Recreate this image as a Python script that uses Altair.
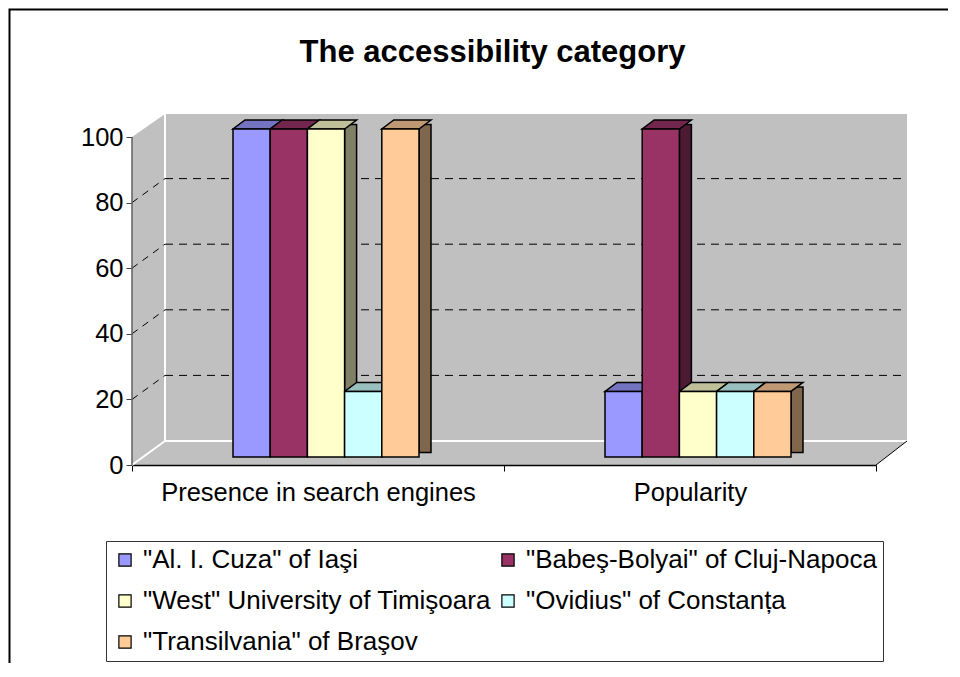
import altair as alt
import pandas as pd

# ---------------- data ----------------
categories = ["Presence in search engines", "Popularity"]
universities = [
    '"Al. I. Cuza" of Iaşi',
    '"Babeş-Bolyai" of Cluj-Napoca',
    '"West" University of Timişoara',
    '"Ovidius" of Constanța',
    '"Transilvania" of Braşov',
]
presence_scores = [100, 100, 100, 20, 100]
popularity_scores = [20, 100, 20, 20, 20]
y_tick_values = [0, 20, 40, 60, 80, 100]
wall_grid_values = [20, 40, 60, 80]

# ---------------- styles ----------------
front_colors = ["#9999FF", "#993366", "#FFFFCC", "#CCFFFF", "#FFCC99"]
top_colors = ["#7373BF", "#73264D", "#BFBF99", "#99BFBF", "#BF9973"]
side_colors = ["#4D4D80", "#4D1A33", "#808066", "#668080", "#80664D"]

rows = []
for cat, scores in zip(categories, [presence_scores, popularity_scores]):
    for uni, s in zip(universities, scores):
        rows.append({"category": cat, "university": uni, "score": s})
df = pd.DataFrame(rows)
grid_df = pd.DataFrame({"level": wall_grid_values})
one = pd.DataFrame({"k": [0]})

# legend is filled column by column: reorder so that it reads row by row (2 columns)
legend_order = universities[0::2] + universities[1::2]
legend_colors = front_colors[0::2] + front_colors[1::2]

FONT = "Liberation Sans"
W, H = 775, 351            # plot area (front plane + depth)
FRONT_W = 744              # width of the front category axis
PX_PER_UNIT = 3.28
Y_MAX = H / PX_PER_UNIT
BACK_DX, BACK_DY = 33, -24  # back wall offset
BAR_DX, BAR_DY = 8, -8      # bars' front face offset
DEPTH_DX, DEPTH_DY = 12, -9 # bar depth
BAND = FRONT_W / 2
STEP = BAND / 10

y_scale = alt.Scale(domain=[0, Y_MAX], nice=False, zero=True)
xoff_scale = alt.Scale(domain=universities, range=[2.5 * STEP, 7.5 * STEP], paddingInner=0, paddingOuter=0)


def xscale(shift):
    return alt.Scale(domain=categories, range=[shift, FRONT_W + shift], paddingInner=0, paddingOuter=0)


xoff = alt.XOffset("university:N", scale=xoff_scale)
y_noaxis = alt.Y("score:Q", scale=y_scale, axis=None)

# invisible layer that carries the axes
axis_layer = alt.Chart(df).mark_bar(opacity=0).encode(
    x=alt.X(
        "category:N", scale=xscale(0),
        axis=alt.Axis(title=None, labelAngle=0, tickBand="extent", tickSize=6, tickColor="black",
                      domainColor="black", domainWidth=1.5, labelFontSize=25.5, labelFont=FONT,
                      labelColor="black", labelPadding=9, labelLimit=0),
    ),
    xOffset=xoff,
    y=alt.Y("score:Q", scale=y_scale,
            axis=alt.Axis(title=None, orient="left", values=y_tick_values, grid=False, domain=False,
                          tickSize=6, tickColor="#404040", tickWidth=1, labelFontSize=25.5, labelFont=FONT,
                          labelColor="black", labelPadding=3)),
)

# outer frame of the chart
frame = alt.Chart(one).mark_rect(fill="transparent", stroke="black", strokeWidth=2).encode(
    x=alt.value(-122.5), x2=alt.value(W + 80), y=alt.value(-104.5), y2=alt.value(H + 320)
)

# white corners outside the 3-D box
tl_tri = alt.Chart(one).mark_point(
    shape="M-1,-0.697L1,-0.697L-1,0.697Z", size=1089, filled=True, color="white", opacity=1, strokeWidth=0
).encode(x=alt.value(BACK_DX / 2), y=alt.value(11.5))
br_tri = alt.Chart(one).mark_point(
    shape="M1,-0.774L1,0.774L-1,0.774Z", size=961, filled=True, color="white", opacity=1, strokeWidth=0
).encode(x=alt.value((FRONT_W + W) / 2), y=alt.value(H - 12))

# wall edges
back_left_edge = alt.Chart(one).mark_rule(color="white", strokeWidth=2, y2Offset=BACK_DY).encode(
    x=alt.value(BACK_DX), y=alt.datum(Y_MAX, scale=y_scale, axis=None), y2=alt.datum(0)
)
floor_back = alt.Chart(one).mark_rule(color="white", strokeWidth=2, yOffset=BACK_DY).encode(
    x=alt.value(BACK_DX), x2=alt.value(W), y=alt.datum(0, scale=y_scale, axis=None)
)
floor_left = alt.Chart(one).mark_rule(color="white", strokeWidth=2, y2Offset=BACK_DY).encode(
    x=alt.value(0), x2=alt.value(BACK_DX), y=alt.datum(0, scale=y_scale, axis=None), y2=alt.datum(0)
)
floor_right = alt.Chart(one).mark_rule(color="black", strokeWidth=1, y2Offset=BACK_DY).encode(
    x=alt.value(FRONT_W), x2=alt.value(W), y=alt.datum(0, scale=y_scale, axis=None), y2=alt.datum(0)
)

# dashed gridlines on the back wall and on the left wall
grid_back = alt.Chart(grid_df).mark_rule(color="black", strokeWidth=1, strokeDash=[8, 6], yOffset=BACK_DY).encode(
    x=alt.value(BACK_DX), x2=alt.value(W), y=alt.Y("level:Q", scale=y_scale, axis=None)
)
grid_side = alt.Chart(grid_df).mark_rule(color="black", strokeWidth=1, strokeDash=[7, 6], y2Offset=BACK_DY).encode(
    x=alt.value(0), x2=alt.value(BACK_DX), y=alt.Y("level:Q", scale=y_scale, axis=None), y2=alt.Y2("level")
)

y_line = alt.Chart(one).mark_rule(color="#606060", strokeWidth=1.5).encode(
    x=alt.value(0), y=alt.datum(0, scale=y_scale, axis=None), y2=alt.datum(100)
)

side = alt.Chart(df).mark_bar(
    width=DEPTH_DX, stroke="black", strokeWidth=1.5,
    yOffset=BAR_DY + DEPTH_DY / 2, y2Offset=BAR_DY + DEPTH_DY / 2,
).encode(
    x=alt.X("category:N", scale=xscale(BAR_DX + STEP / 2 + DEPTH_DX / 2), axis=None),
    xOffset=xoff,
    y=y_noaxis,
    y2=alt.datum(0),
    color=alt.Color("university:N", scale=alt.Scale(domain=universities, range=side_colors), legend=None),
)

half = STEP / 2 + DEPTH_DX / 2
top_path = "M-1,{a:.3f}L{b:.3f},{a:.3f}L1,{c:.3f}L{d:.3f},{c:.3f}Z".format(
    a=(-DEPTH_DY / 2) / half, b=(STEP / 2 - DEPTH_DX / 2) / half, c=(DEPTH_DY / 2) / half,
    d=-(STEP / 2 - DEPTH_DX / 2) / half)
top = alt.Chart(df).mark_point(
    shape=top_path, size=(2 * half) ** 2, filled=True, opacity=1, stroke="black", strokeWidth=1.5,
    yOffset=BAR_DY + DEPTH_DY / 2,
).encode(
    x=alt.X("category:N", scale=xscale(BAR_DX + DEPTH_DX / 2), axis=None),
    xOffset=xoff,
    y=y_noaxis,
    color=alt.Color("university:N", scale=alt.Scale(domain=universities, range=top_colors), legend=None),
)

front = alt.Chart(df).mark_bar(stroke="black", strokeWidth=1.5, yOffset=BAR_DY, y2Offset=BAR_DY).encode(
    x=alt.X("category:N", scale=xscale(BAR_DX), axis=None),
    xOffset=xoff,
    y=y_noaxis,
    y2=alt.datum(0),
    color=alt.Color(
        "university:N",
        scale=alt.Scale(domain=legend_order, range=legend_colors),
        legend=alt.Legend(
            title=None, orient="none", legendX=-26, legendY=427, columns=2, columnPadding=4,
            rowPadding=15, padding=6, symbolType="square", symbolSize=150, symbolStrokeColor="black",
            symbolStrokeWidth=1.2, symbolOpacity=1, labelFont=FONT, labelFontSize=26, labelColor="black",
            labelOffset=5, labelLimit=0, strokeColor="#333333", fillColor="white",
        ),
    ),
)

chart = alt.layer(
    axis_layer, frame, tl_tri, br_tri, back_left_edge, floor_back, floor_left, floor_right,
    grid_back, grid_side, y_line, side, top, front,
).resolve_scale(
    x="independent", color="independent"
).resolve_axis(
    y="independent"
).properties(
    width=W, height=H,
    autosize=alt.AutoSizeParams(type="none"),
    padding={"left": 124, "top": 106, "right": 41, "bottom": 198},
    title=alt.TitleParams(
        "The accessibility category", font=FONT, fontSize=31, fontWeight="bold", color="black",
        anchor="middle", dx=-27, baseline="alphabetic", offset=-84.5,
    ),
).configure_view(fill="#C0C0C0", stroke=None)

chart.save("out.html", embed_options={"renderer": "svg", "actions": False})
